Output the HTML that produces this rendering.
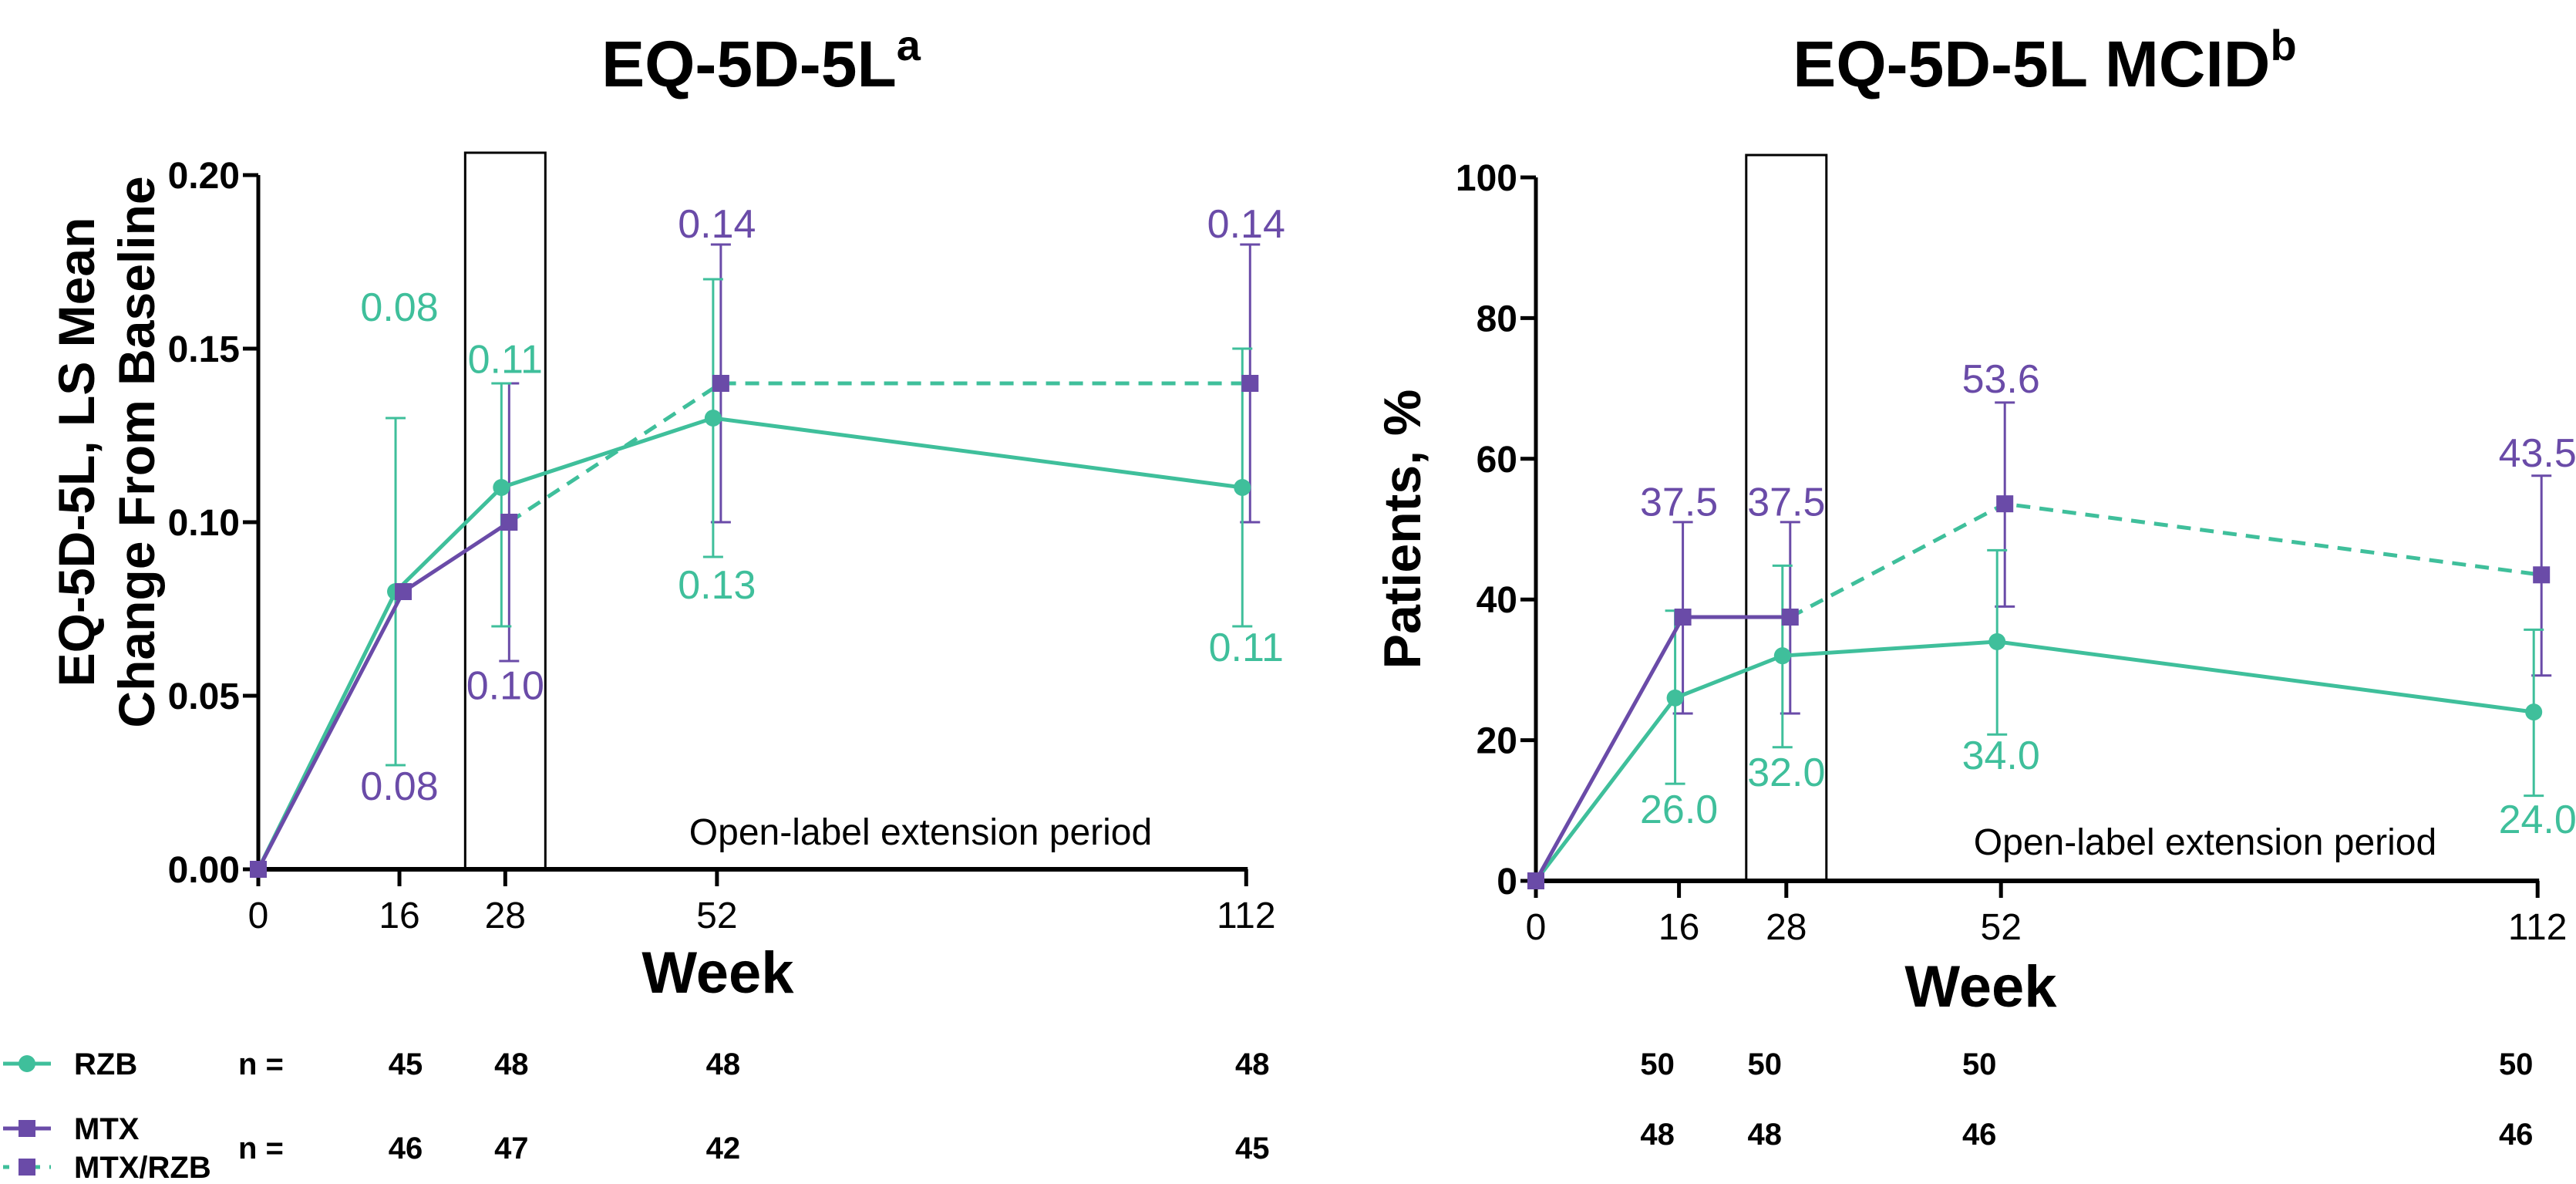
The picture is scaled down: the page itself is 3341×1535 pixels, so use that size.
<!DOCTYPE html>
<html><head><meta charset="utf-8"><style>
html,body{margin:0;padding:0;background:#fff;}
svg{display:block;font-family:"Liberation Sans",Arial,sans-serif;}
</style></head><body>
<svg id="chart" width="3341" height="1535" viewBox="0 0 3341 1535" xmlns="http://www.w3.org/2000/svg">
<text x="987" y="112" font-size="84" font-weight="bold" text-anchor="middle">EQ-5D-5L<tspan font-size="56" dy="-34">a</tspan></text>
<text x="2652" y="112" font-size="84" font-weight="bold" text-anchor="middle">EQ-5D-5L MCID<tspan font-size="56" dy="-34">b</tspan></text>
<g font-size="66" font-weight="bold" text-anchor="middle">
<text transform="translate(122,586) rotate(-90)">EQ-5D-5L, LS Mean</text>
<text transform="translate(200,586) rotate(-90)">Change From Baseline</text>
</g>
<text transform="translate(1842,686) rotate(-90)" font-size="68" font-weight="bold" text-anchor="middle">Patients, %</text>
<text x="931" y="1287" font-size="76" font-weight="bold" text-anchor="middle">Week</text>
<text x="2569" y="1305" font-size="76" font-weight="bold" text-anchor="middle">Week</text>
<g id="plots"></g>
<g id="legend"></g>
</svg>
<script>
const weeks = [0, 16, 28, 52, 112];
const leftYTicks = [0, 0.05, 0.10, 0.15, 0.20];
const leftYTickLabels = ["0.00", "0.05", "0.10", "0.15", "0.20"];
const rightYTicks = [0, 20, 40, 60, 80, 100];
const rightYTickLabels = ["0", "20", "40", "60", "80", "100"];

const leftRzb = [0, 0.08, 0.11, 0.13, 0.11];
const leftRzbLo = [0, 0.03, 0.07, 0.09, 0.07];
const leftRzbHi = [0, 0.13, 0.14, 0.17, 0.15];
const leftRzbText = ["", "0.08", "0.11", "0.13", "0.11"];
const leftRzbTextAt = [0, 0.158, 0.143, 0.078, 0.060];
const leftMtx = [0, 0.08, 0.10, 0.14, 0.14];
const leftMtxLo = [0, 0.08, 0.06, 0.10, 0.10];
const leftMtxHi = [0, 0.08, 0.14, 0.18, 0.18];
const leftMtxText = ["", "0.08", "0.10", "0.14", "0.14"];
const leftMtxTextAt = [0, 0.020, 0.049, 0.182, 0.182];

const rightRzb = [0, 26.0, 32.0, 34.0, 24.0];
const rightRzbLo = [0, 13.8, 19.0, 20.8, 12.1];
const rightRzbHi = [0, 38.4, 44.8, 47.0, 35.7];
const rightRzbText = ["", "26.0", "32.0", "34.0", "24.0"];
const rightRzbTextAt = [0, 8.2, 13.5, 15.9, 6.8];
const rightMtx = [0, 37.5, 37.5, 53.6, 43.5];
const rightMtxLo = [0, 23.8, 23.8, 39.0, 29.2];
const rightMtxHi = [0, 51.0, 51.0, 68.0, 57.6];
const rightMtxText = ["", "37.5", "37.5", "53.6", "43.5"];
const rightMtxTextAt = [0, 51.9, 51.9, 69.4, 58.9];

const nRzbLeft = ["45", "48", "48", "48"];
const nMtxLeft = ["46", "47", "42", "45"];
const nRzbRight = ["50", "50", "50", "50"];
const nMtxRight = ["48", "48", "46", "46"];

const GREEN = "#3fbf9b", PURPLE = "#6a4ba8";
const NS = "http://www.w3.org/2000/svg";
const plots = document.getElementById("plots");
function mk(tag, attrs, parent, text) {
  const e = document.createElementNS(NS, tag);
  for (const k in attrs) e.setAttribute(k, attrs[k]);
  if (text !== undefined) e.textContent = text;
  (parent || plots).appendChild(e);
  return e;
}

function drawPanel(cfg) {
  const g = mk("g", {});
  
  
  const x = w => cfg.x0 + w * cfg.pxPerWeek;
  const y = v => cfg.y0 - (v - cfg.yMin) / (cfg.yMax - cfg.yMin) * (cfg.y0 - cfg.yTop);
  const xEnd = x(112);
  const box = mk("rect", {x: x(28) - 52, y: cfg.boxTop, width: 104, height: cfg.y0 - cfg.boxTop, fill: "none", stroke: "#000", "stroke-width": 3}, g);
  
  
  const yAx = mk("line", {x1: cfg.x0, y1: y(cfg.yMax), x2: cfg.x0, y2: cfg.y0, stroke: "#000", "stroke-width": 5}, g);
  
  
  const xAx = mk("line", {x1: cfg.x0 - 2, y1: cfg.y0, x2: xEnd + 2, y2: cfg.y0, stroke: "#000", "stroke-width": 6}, g);
  
  
  cfg.yTicks.forEach((t, i) => {
    mk("line", {x1: cfg.x0 - 20, y1: y(t), x2: cfg.x0, y2: y(t), stroke: "#000", "stroke-width": 5}, g);
    const tl = mk("text", {x: cfg.x0 - 24, y: y(t) + 17, "font-size": 48, "font-weight": "bold", "text-anchor": "end"}, g, cfg.yLabels[i]);
    
    
  });
  weeks.forEach(w => {
    mk("line", {x1: x(w), y1: cfg.y0, x2: x(w), y2: cfg.y0 + 22, stroke: "#000", "stroke-width": 5}, g);
    const tl = mk("text", {x: x(w), y: cfg.y0 + 76, "font-size": 48, "text-anchor": "middle"}, g, String(w));
    
    
  });
  const ol = mk("text", {x: cfg.olX, y: cfg.olY, "font-size": 48, "text-anchor": "middle"}, g, "Open-label extension period");
  
  

  const gx = w => w === 0 ? x(0) : x(w) - 5;
  const px = w => w === 0 ? x(0) : x(w) + 5;
  weeks.forEach((w, i) => {
    if (i === 0) return;
    [[cfg.mtxLo, cfg.mtxHi, px, PURPLE, 'error-bar-mtx'], [cfg.rzbLo, cfg.rzbHi, gx, GREEN, 'error-bar-rzb']].forEach(([lo, hi, fx, c, nm]) => {
      if (lo[i] === hi[i]) return;
      const eb = mk("g", {stroke: c, "stroke-width": 3}, g);
      
      
      mk("line", {x1: fx(w), y1: y(lo[i]), x2: fx(w), y2: y(hi[i])}, eb);
      mk("line", {x1: fx(w) - 13, y1: y(lo[i]), x2: fx(w) + 13, y2: y(lo[i])}, eb);
      mk("line", {x1: fx(w) - 13, y1: y(hi[i]), x2: fx(w) + 13, y2: y(hi[i])}, eb);
    });
  });
  const rz = weeks.map((w, i) => gx(w) + "," + y(cfg.rzb[i])).join(" ");
  const rl = mk("polyline", {points: rz, fill: "none", stroke: GREEN, "stroke-width": 5}, g);
  
  
  const solid = [0, 1, 2].map(i => px(weeks[i]) + "," + y(cfg.mtx[i])).join(" ");
  const ml = mk("polyline", {points: solid, fill: "none", stroke: PURPLE, "stroke-width": 5}, g);
  
  
  const dash = [2, 3, 4].map(i => px(weeks[i]) + "," + y(cfg.mtx[i])).join(" ");
  const dl = mk("polyline", {points: dash, fill: "none", stroke: GREEN, "stroke-width": 5, "stroke-dasharray": "18,12"}, g);
  
  
  weeks.forEach((w, i) => {
    const c = mk("circle", {cx: gx(w), cy: y(cfg.rzb[i]), r: 11, fill: GREEN}, g);
    
    
    const s = mk("rect", {x: px(w) - 11, y: y(cfg.mtx[i]) - 11, width: 22, height: 22, fill: PURPLE}, g);
    
    
  });
  weeks.forEach((w, i) => {
    if (i === 0) return;
    const a = mk("text", {x: x(w), y: y(cfg.rzbTextAt[i]), "font-size": 52, fill: GREEN, "text-anchor": "middle"}, g, cfg.rzbText[i]);
    
    
    const b = mk("text", {x: x(w), y: y(cfg.mtxTextAt[i]), "font-size": 52, fill: PURPLE, "text-anchor": "middle"}, g, cfg.mtxText[i]);
    
    
  });
  return x;
}

const xl = drawPanel({name: "left-chart", x0: 335, pxPerWeek: 11.44, y0: 1127, yTop: 227, yMin: 0, yMax: 0.20, boxTop: 198,
  yTicks: leftYTicks, yLabels: leftYTickLabels, olX: 1194, olY: 1095,
  rzb: leftRzb, rzbLo: leftRzbLo, rzbHi: leftRzbHi, rzbText: leftRzbText, rzbTextAt: leftRzbTextAt,
  mtx: leftMtx, mtxLo: leftMtxLo, mtxHi: leftMtxHi, mtxText: leftMtxText, mtxTextAt: leftMtxTextAt});
const xr = drawPanel({name: "right-chart", x0: 1992, pxPerWeek: 11.6, y0: 1142, yTop: 230, yMin: 0, yMax: 100, boxTop: 201,
  yTicks: rightYTicks, yLabels: rightYTickLabels, olX: 2860, olY: 1108,
  rzb: rightRzb, rzbLo: rightRzbLo, rzbHi: rightRzbHi, rzbText: rightRzbText, rzbTextAt: rightRzbTextAt,
  mtx: rightMtx, mtxLo: rightMtxLo, mtxHi: rightMtxHi, mtxText: rightMtxText, mtxTextAt: rightMtxTextAt});

const lg = document.getElementById("legend");
function ltext(x, y, t, name, anchor) {
  const e = mk("text", {x: x, y: y, "font-size": 40, "font-weight": "bold", "text-anchor": anchor || "start"}, lg, t);
  
  
}
mk("line", {x1: 4, y1: 1379, x2: 66, y2: 1379, stroke: GREEN, "stroke-width": 5}, lg);
mk("circle", {cx: 35, cy: 1379, r: 11, fill: GREEN}, lg);
ltext(96, 1393, "RZB", "legend-rzb");
mk("line", {x1: 4, y1: 1463, x2: 66, y2: 1463, stroke: PURPLE, "stroke-width": 5}, lg);
mk("rect", {x: 24, y: 1452, width: 22, height: 22, fill: PURPLE}, lg);
ltext(96, 1477, "MTX", "legend-mtx");
mk("line", {x1: 4, y1: 1513, x2: 66, y2: 1513, stroke: GREEN, "stroke-width": 5, "stroke-dasharray": "8,12"}, lg);
mk("rect", {x: 24, y: 1502, width: 22, height: 22, fill: PURPLE}, lg);
ltext(96, 1527, "MTX/RZB", "legend-mtx-rzb");
ltext(309, 1393, "n =", "n-label-rzb");
ltext(309, 1502, "n =", "n-label-mtx");
const nWeeks = [16, 28, 52, 112];
nWeeks.forEach((w, i) => {
  ltext(xl(w) + 8, 1393, nRzbLeft[i], "n-rzb-left", "middle");
  ltext(xl(w) + 8, 1502, nMtxLeft[i], "n-mtx-left", "middle");
  ltext(xr(w) - 28, 1393, nRzbRight[i], "n-rzb-right", "middle");
  ltext(xr(w) - 28, 1484, nMtxRight[i], "n-mtx-right", "middle");
});
</script>
</body></html>
